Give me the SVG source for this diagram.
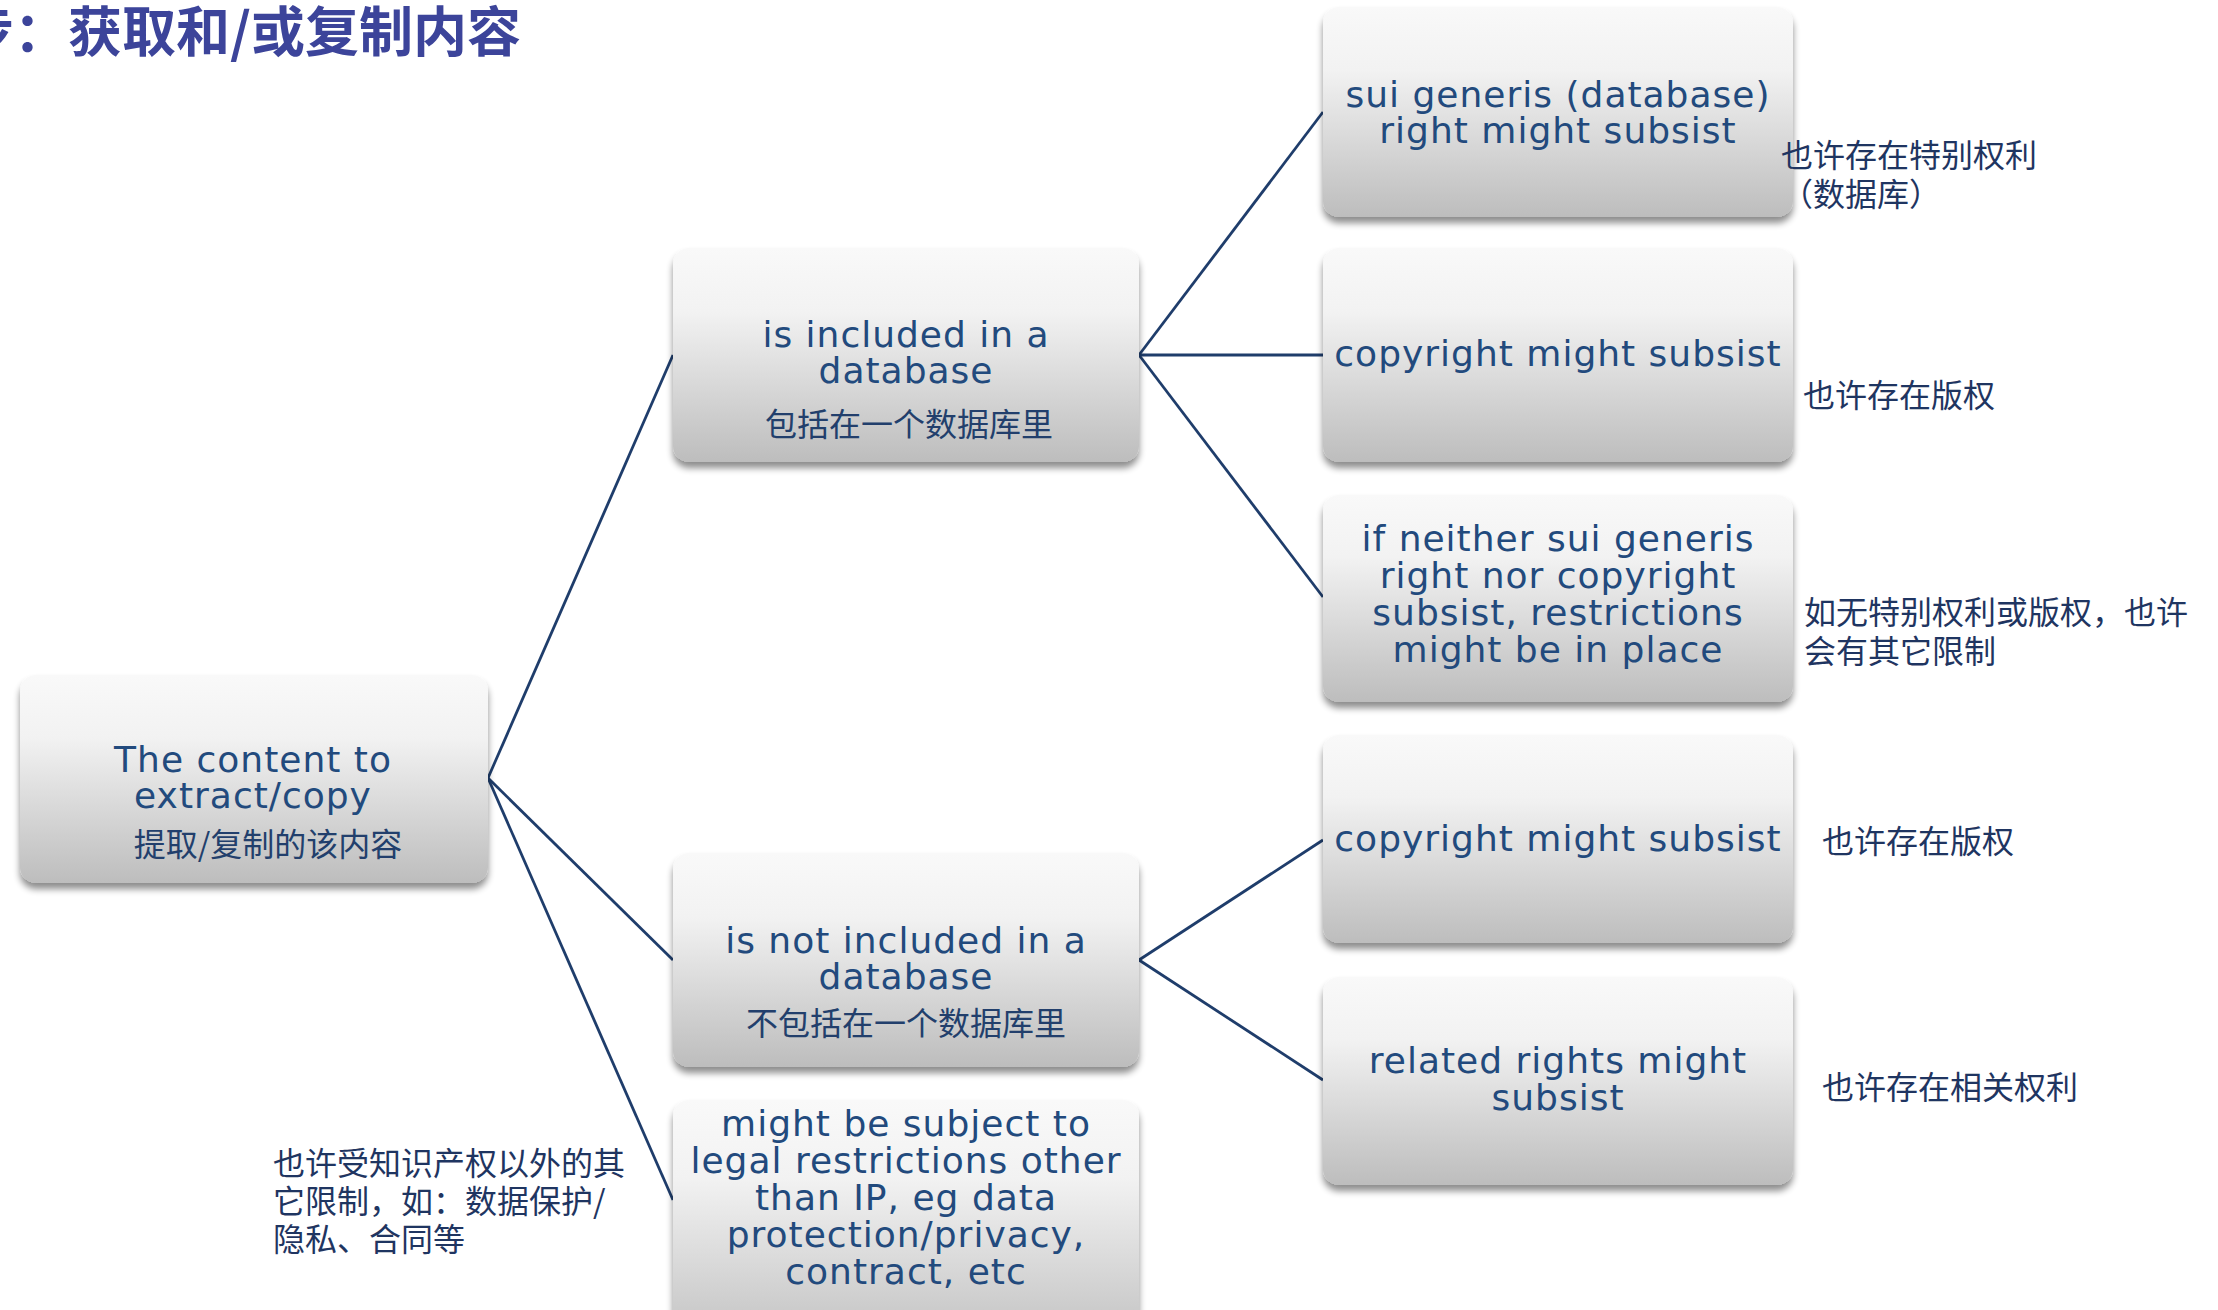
<svg xmlns="http://www.w3.org/2000/svg" width="2218" height="1310" viewBox="0 0 2218 1310">
<style>
.box{fill:url(#g);filter:url(#sh)}
.en{font-family:"DejaVu Sans","Verdana",sans-serif;font-size:36px;letter-spacing:1px;fill:#224a7d;text-anchor:middle}
.zh{font-family:"Noto Sans CJK SC",sans-serif;font-size:32px;fill:#223f6c;text-anchor:middle}
.ann{font-family:"Noto Sans CJK SC",sans-serif;font-size:32px;fill:#1f3561}
.title{font-family:"Noto Sans CJK SC",sans-serif;font-size:54px;font-weight:bold;fill:#3c449a}
.conn{stroke:#1f3d6b;stroke-width:2.8;fill:none}
</style>
<defs>
<linearGradient id="g" x1="0" y1="0" x2="0" y2="1">
<stop offset="0" stop-color="#f9f9f9"/>
<stop offset="0.3" stop-color="#f2f2f2"/>
<stop offset="1" stop-color="#bdbdbd"/>
</linearGradient>
<filter id="sh" x="-5%" y="-5%" width="110%" height="120%">
<feGaussianBlur in="SourceAlpha" stdDeviation="3.5"/>
<feOffset dy="6" result="b"/>
<feComponentTransfer><feFuncA type="linear" slope="0.45"/></feComponentTransfer>
<feMerge><feMergeNode/><feMergeNode in="SourceGraphic"/></feMerge>
</filter>
</defs>
<rect width="2218" height="1310" fill="#ffffff"/>
<text class="title" x="-40" y="52">步：获取和/或复制内容</text>

<g id="connectors">
<line class="conn" x1="488" y1="778" x2="673" y2="355"/>
<line class="conn" x1="488" y1="778" x2="673" y2="960"/>
<line class="conn" x1="488" y1="778" x2="673" y2="1200"/>
<line class="conn" x1="1139" y1="355" x2="1323" y2="112"/>
<line class="conn" x1="1139" y1="355" x2="1323" y2="355"/>
<line class="conn" x1="1139" y1="355" x2="1323" y2="597"/>
<line class="conn" x1="1139" y1="960" x2="1323" y2="840"/>
<line class="conn" x1="1139" y1="960" x2="1323" y2="1080"/>
</g>

<g id="root">
<rect class="box" x="20" y="675" width="468" height="208" rx="16"/>
<text class="en" x="253" y="772">The content to</text>
<text class="en" x="253" y="808">extract/copy</text>
<text class="zh" x="268" y="856">提取/复制的该内容</text>
</g>

<g id="included">
<rect class="box" x="673" y="248" width="466" height="214" rx="16"/>
<text class="en" x="906" y="347">is included in a</text>
<text class="en" x="906" y="383">database</text>
<text class="zh" x="909" y="436">包括在一个数据库里</text>
</g>

<g id="not-included">
<rect class="box" x="673" y="853" width="466" height="214" rx="16"/>
<text class="en" x="906" y="953">is not included in a</text>
<text class="en" x="906" y="989">database</text>
<text class="zh" x="906" y="1035">不包括在一个数据库里</text>
</g>

<g id="might-be">
<rect class="box" x="673" y="1100" width="466" height="260" rx="16"/>
<text class="en" x="906" y="1136">might be subject to</text>
<text class="en" x="906" y="1173">legal restrictions other</text>
<text class="en" x="906" y="1210">than IP, eg data</text>
<text class="en" x="906" y="1247">protection/privacy,</text>
<text class="en" x="906" y="1284">contract, etc</text>
</g>

<g id="sui-generis">
<rect class="box" x="1323" y="7" width="470" height="210" rx="16"/>
<text class="en" x="1558" y="107">sui generis (database)</text>
<text class="en" x="1558" y="143">right might subsist</text>
</g>

<g id="copyright-1">
<rect class="box" x="1323" y="248" width="470" height="214" rx="16"/>
<text class="en" x="1558" y="366">copyright might subsist</text>
</g>

<g id="if-neither">
<rect class="box" x="1323" y="495" width="470" height="207" rx="16"/>
<text class="en" x="1558" y="551">if neither sui generis</text>
<text class="en" x="1558" y="588">right nor copyright</text>
<text class="en" x="1558" y="625">subsist, restrictions</text>
<text class="en" x="1558" y="662">might be in place</text>
</g>

<g id="copyright-2">
<rect class="box" x="1323" y="735" width="470" height="208" rx="16"/>
<text class="en" x="1558" y="851">copyright might subsist</text>
</g>

<g id="related">
<rect class="box" x="1323" y="977" width="470" height="208" rx="16"/>
<text class="en" x="1558" y="1073">related rights might</text>
<text class="en" x="1558" y="1110">subsist</text>
</g>

<g id="annotations">
<text class="ann" x="1781" y="167">也许存在特别权利</text>
<text class="ann" x="1781" y="206">（数据库）</text>
<text class="ann" x="1803" y="407">也许存在版权</text>
<text class="ann" x="1804" y="624">如无特别权利或版权，也许</text>
<text class="ann" x="1804" y="663">会有其它限制</text>
<text class="ann" x="1822" y="853">也许存在版权</text>
<text class="ann" x="1822" y="1099">也许存在相关权利</text>
<text class="ann" x="273" y="1175">也许受知识产权以外的其</text>
<text class="ann" x="273" y="1213">它限制，如：数据保护/</text>
<text class="ann" x="273" y="1251">隐私、合同等</text>
</g>
</svg>
